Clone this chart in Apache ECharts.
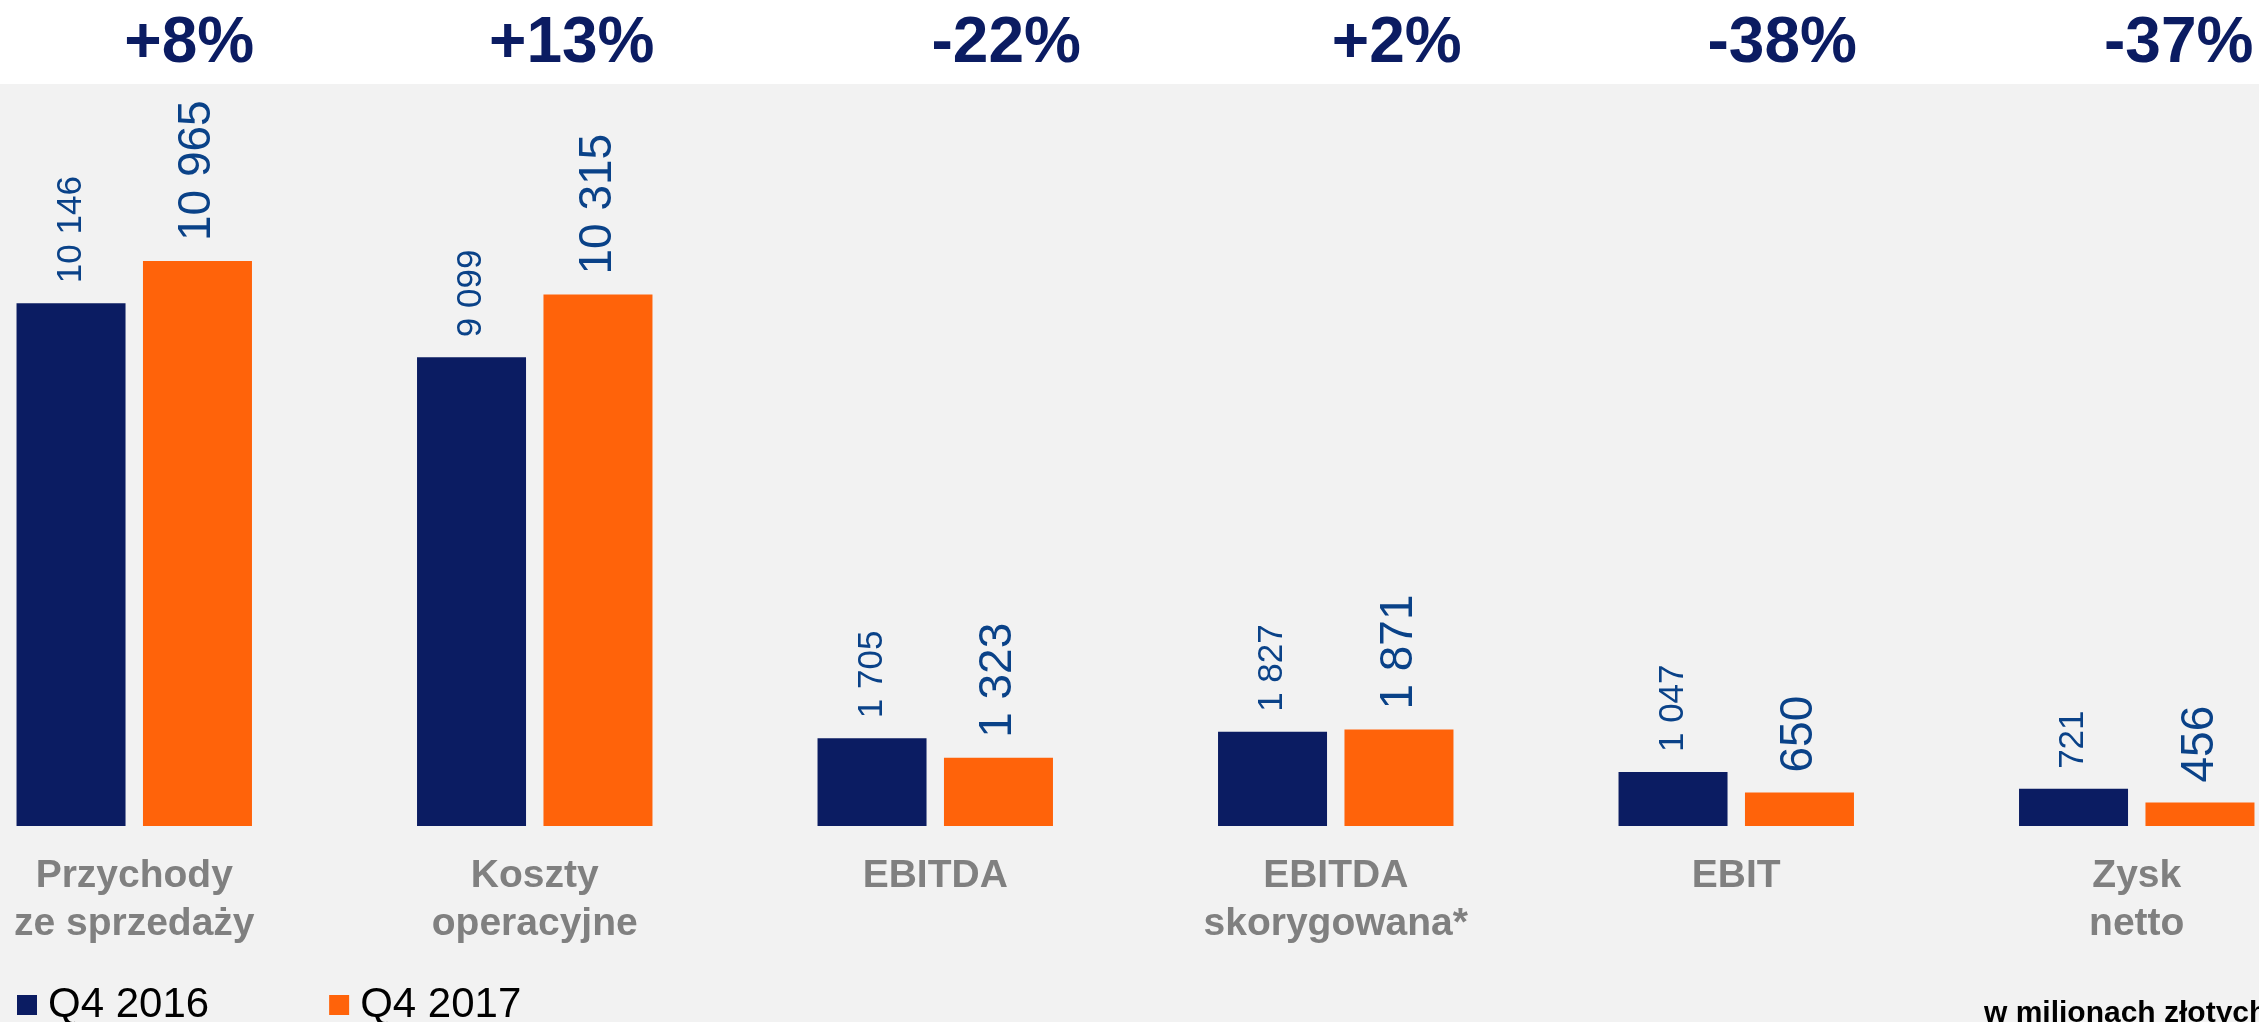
<!DOCTYPE html>
<html>
<head>
<meta charset="utf-8">
<script src="https://cdn.jsdelivr.net/npm/echarts@6/dist/echarts.min.js"></script>
<style>
  html, body { margin: 0; padding: 0; background: #ffffff; }
  #chart { width: 2259px; height: 1022px; }
</style>
</head>
<body>
<div id="chart"></div>
<script>
// chart data
const categories = [
  'Przychody\nze sprzedaży',
  'Koszty\noperacyjne',
  'EBITDA',
  'EBITDA\nskorygowana*',
  'EBIT',
  'Zysk\nnetto'
]
const q42016 = [10146, 9099, 1705, 1827, 1047, 721]
const q42017 = [10965, 10315, 1323, 1871, 650, 456]
const changeLabels = ['+8%', '+13%', '-22%', '+2%', '-38%', '-37%']
// offset of each change label from its category centre (px)
const changeOffsetX = [55, 37, 71, 61, 46, 42]

const NAVY = '#0b1c62'
const ORANGE = '#ff630a'
const LABEL_BLUE = '#0a4288'
const FONT = 'Arial, "Liberation Sans", sans-serif'

const fmt = (v) => String(v).replace(/\B(?=(\d{3})+(?!\d))/g, ' ')

const chart = echarts.init(document.getElementById('chart'))

const option = {
  backgroundColor: '#ffffff',
  animation: false,
  graphic: [
    {
      type: 'rect',
      z: -10,
      silent: true,
      shape: { x: 0, y: 84, width: 2259, height: 938 },
      style: { fill: '#f2f2f2' }
    },
    {
      type: 'text',
      left: 1984,
      top: 999,
      style: {
        text: 'w milionach złotych',
        font: 'bold 30px ' + FONT,
        fill: '#000000'
      }
    }
  ],
  legend: {
    left: 12,
    top: 979,
    itemWidth: 20,
    itemHeight: 20,
    itemGap: 120,
    icon: 'rect',
    textStyle: { fontSize: 42, fontFamily: FONT, color: '#000000', padding: [0, 0, 0, 6] },
    data: ['Q4 2016', 'Q4 2017']
  },
  grid: {
    left: -66,
    right: -78,
    top: 84,
    bottom: 196,
    outerBoundsMode: 'none'
  },
  xAxis: {
    type: 'category',
    data: categories,
    axisLine: { show: false },
    axisTick: { show: false },
    axisLabel: {
      margin: 26,
      fontSize: 39,
      lineHeight: 48,
      fontWeight: 'bold',
      fontFamily: FONT,
      color: '#808080',
      interval: 0
    }
  },
  yAxis: {
    type: 'value',
    min: 0,
    max: 14400,
    show: false,
    splitLine: { show: false }
  },
  series: [
    {
      name: 'Q4 2016',
      type: 'bar',
      data: q42016,
      barWidth: 109,
      barGap: '16%',
      itemStyle: { color: NAVY },
      label: {
        show: true,
        position: 'top',
        rotate: 90,
        align: 'left',
        verticalAlign: 'middle',
        distance: 20,
        fontSize: 35,
        fontFamily: FONT,
        color: LABEL_BLUE,
        formatter: (p) => fmt(p.value)
      }
    },
    {
      name: 'Q4 2017',
      type: 'bar',
      data: q42017,
      barWidth: 109,
      itemStyle: { color: ORANGE },
      label: {
        show: true,
        position: 'top',
        rotate: 90,
        align: 'left',
        verticalAlign: 'middle',
        distance: 20,
        fontSize: 46,
        fontFamily: FONT,
        color: LABEL_BLUE,
        formatter: (p) => fmt(p.value)
      }
    }
  ]
}

chart.setOption(option)

// change labels above each category, placed from the axis scale
const changeTexts = changeLabels.map((txt, i) => {
  const cx = chart.convertToPixel({ xAxisIndex: 0 }, i) + changeOffsetX[i]
  return {
    type: 'text',
    x: cx,
    y: 44,
    style: {
      text: txt,
      font: 'bold 64px ' + FONT,
      fill: NAVY,
      align: 'center',
      verticalAlign: 'middle'
    }
  }
})

chart.setOption({ graphic: option.graphic.concat(changeTexts) })
</script>
</body>
</html>
